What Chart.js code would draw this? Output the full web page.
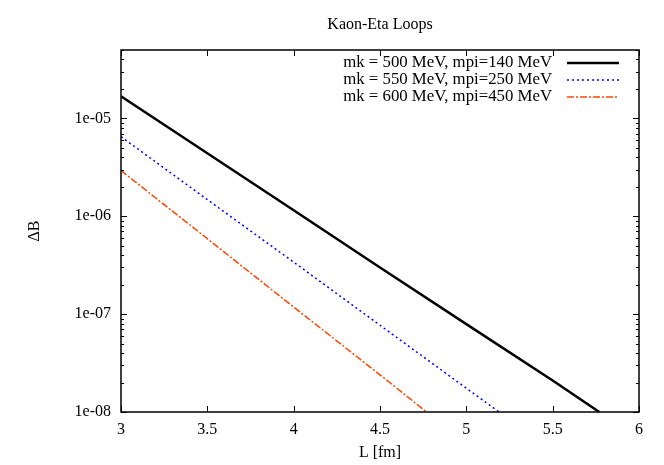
<!DOCTYPE html>
<html lang="en">
<head>
    <style>
        body {
            margin: 0;
            background-color: #fff;
        }
    </style>
</head>
<body>

<canvas id="loopChart" width="664" height="465"></canvas>

<script src="https://cdn.jsdelivr.net/npm/chart.js"></script>
<script>
    // Values (L in fm, Delta B on log scale)
    const chartTitle = 'Kaon-Eta Loops';
    const seriesLabels = [
        'mk = 500 MeV, mpi=140 MeV',
        'mk = 550 MeV, mpi=250 MeV',
        'mk = 600 MeV, mpi=450 MeV'
    ];
    const lK500 = [3, 3.5, 4, 4.5, 5, 5.5, 5.77];
    const dbK500 = [1.68e-5, 4.4e-6, 1.15e-6, 3.0e-7, 7.9e-8, 2.1e-8, 1e-8];
    const lK550 = [3, 3.5, 4, 4.5, 5, 5.19];
    const dbK550 = [6.5e-6, 1.48e-6, 3.4e-7, 7.7e-8, 1.75e-8, 1e-8];
    const lK600 = [3, 3.5, 4, 4.5, 4.77];
    const dbK600 = [2.93e-6, 5.9e-7, 1.18e-7, 2.4e-8, 1e-8];
    const xTicks = [3, 3.5, 4, 4.5, 5, 5.5, 6];
    const yTicks = [1e-8, 1e-7, 1e-6, 1e-5];

    const serif = "'Liberation Serif', 'DejaVu Serif', serif";

    function toPoints(xs, ys) {
        return xs.map((x, i) => ({ x: x, y: ys[i] }));
    }

    // gnuplot-like frame, inward ticks, title over the plot and legend
    const framePlugin = {
        id: 'frame',
        afterDraw(chart) {
            const ctx = chart.ctx;
            const a = chart.chartArea;
            const xs = chart.scales.x;
            const ys = chart.scales.y;
            ctx.save();
            ctx.strokeStyle = '#000';
            ctx.lineWidth = 1.5;
            ctx.strokeRect(a.left, a.top, a.right - a.left, a.bottom - a.top);

            ctx.lineWidth = 1;
            ctx.beginPath();
            xTicks.forEach(v => {
                const px = Math.round(xs.getPixelForValue(v)) + 0.5;
                ctx.moveTo(px, a.bottom);
                ctx.lineTo(px, a.bottom - 6);
                ctx.moveTo(px, a.top);
                ctx.lineTo(px, a.top + 6);
            });
            for (let e = -8; e <= -5; e++) {
                for (let k = 1; k <= 9; k++) {
                    const v = k * Math.pow(10, e);
                    if (v > ys.max) break;
                    const py = Math.round(ys.getPixelForValue(v)) + 0.5;
                    const len = k === 1 ? 6 : 3;
                    ctx.moveTo(a.left, py);
                    ctx.lineTo(a.left + len, py);
                    ctx.moveTo(a.right, py);
                    ctx.lineTo(a.right - len, py);
                }
            }
            ctx.stroke();

            ctx.fillStyle = '#000';
            ctx.textBaseline = 'middle';
            ctx.textAlign = 'center';
            ctx.font = '16px ' + serif;
            ctx.fillText(chartTitle, (a.left + a.right) / 2, 25);

            // legend: text right aligned, sample on the right
            ctx.font = '16.8px ' + serif;
            ctx.textAlign = 'right';
            chart.data.datasets.forEach((ds, i) => {
                const y = a.top + 13 + i * 17;
                ctx.fillStyle = '#000';
                ctx.fillText(ds.label, a.right - 87, y);
                ctx.beginPath();
                ctx.strokeStyle = ds.borderColor;
                ctx.lineWidth = ds.borderWidth;
                ctx.setLineDash(ds.borderDash || []);
                ctx.moveTo(a.right - 72, y);
                ctx.lineTo(a.right - 20, y);
                ctx.stroke();
            });
            ctx.restore();
        }
    };

    const ctx = document.getElementById('loopChart').getContext('2d');

    new Chart(ctx, {
        type: 'line',
        data: {
            datasets: [
                {
                    label: seriesLabels[0],
                    data: toPoints(lK500, dbK500),
                    borderColor: '#000000',
                    borderWidth: 2.5,
                    pointRadius: 0
                },
                {
                    label: seriesLabels[1],
                    data: toPoints(lK550, dbK550),
                    borderColor: '#0000ff',
                    borderWidth: 1.5,
                    borderDash: [2, 3],
                    pointRadius: 0
                },
                {
                    label: seriesLabels[2],
                    data: toPoints(lK600, dbK600),
                    borderColor: '#ff4500',
                    borderWidth: 1.5,
                    borderDash: [7, 2, 2, 2],
                    pointRadius: 0
                }
            ]
        },
        options: {
            responsive: false,
            animation: false,
            layout: {
                padding: { left: 0, right: 25, top: 50, bottom: 0 }
            },
            plugins: {
                legend: { display: false },
                tooltip: { enabled: false },
                title: { display: false }
            },
            scales: {
                x: {
                    type: 'linear',
                    min: 3,
                    max: 6,
                    afterBuildTicks: scale => {
                        scale.ticks = xTicks.map(v => ({ value: v }));
                    },
                    afterFit: scale => { scale.height = 53; },
                    grid: { display: false, drawTicks: false },
                    border: { display: false },
                    ticks: {
                        color: '#000',
                        padding: 8,
                        maxRotation: 0,
                        font: { family: serif, size: 16 },
                        callback: v => String(v)
                    },
                    title: {
                        display: true,
                        text: 'L [fm]',
                        color: '#000',
                        font: { family: serif, size: 16 },
                        padding: { top: 0, bottom: 2.4 }
                    }
                },
                y: {
                    type: 'logarithmic',
                    min: 1e-8,
                    max: 5e-5,
                    afterBuildTicks: scale => {
                        scale.ticks = yTicks.map(v => ({ value: v }));
                    },
                    afterFit: scale => { scale.width = 121; },
                    grid: { display: false, drawTicks: false },
                    border: { display: false },
                    ticks: {
                        color: '#000',
                        padding: 10,
                        font: { family: serif, size: 16 },
                        callback: v => {
                            const e = Math.round(Math.log10(v));
                            return '1e-' + String(-e).padStart(2, '0');
                        }
                    },
                    title: {
                        display: true,
                        text: 'ΔB',
                        color: '#000',
                        font: { family: serif, size: 16 },
                        padding: { top: 25, bottom: 0 }
                    }
                }
            }
        },
        plugins: [framePlugin]
    });
</script>

</body>
</html>
